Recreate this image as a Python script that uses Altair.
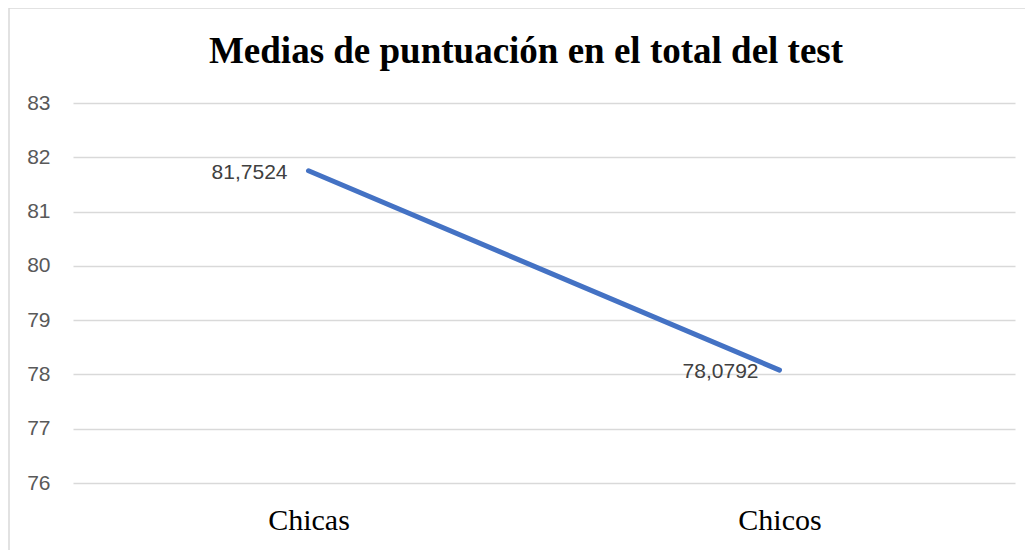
import altair as alt
import pandas as pd

categories = ["Chicas", "Chicos"]
values = [81.7524, 78.0792]
y_ticks = [76, 77, 78, 79, 80, 81, 82, 83]
title_text = "Medias de puntuación en el total del test"

df = pd.DataFrame({"grupo": categories, "media": values})

x_enc = alt.X("grupo:N", sort=categories, title=None,
              scale=alt.Scale(type="point", padding=0.5),
              axis=alt.Axis(labelAngle=0, labelFont="Liberation Serif", labelFontSize=30,
                            labelColor="#000000", domain=False, ticks=False, grid=False,
                            labelPadding=22))
y_enc = alt.Y("media:Q", title=None,
              scale=alt.Scale(domain=[76, 83], nice=False, zero=False),
              axis=alt.Axis(values=y_ticks, domain=False, ticks=False, grid=True,
                            gridColor="#d9d9d9", gridWidth=1.5,
                            labelFont="Liberation Sans", labelFontSize=21,
                            labelColor="#595959", labelPadding=23))

border = alt.Chart(pd.DataFrame({"a": [0]})).mark_rect(
    fill=None, stroke="#d9d9d9", strokeWidth=1.5
).encode(x=alt.value(-64), x2=alt.value(1000), y=alt.value(-95), y2=alt.value(500))

title = alt.Chart(pd.DataFrame({"t": [title_text]})).mark_text(
    align="center", baseline="alphabetic", font="Liberation Serif", fontSize=37,
    fontWeight="bold", color="#000000"
).encode(x=alt.value(453), y=alt.value(-40), text="t:N")

line = alt.Chart(df).mark_line(color="#4472C4", strokeWidth=5, strokeCap="round").encode(
    x=x_enc, y=y_enc
)

labels = alt.Chart(df).transform_calculate(
    lbl="replace(format(datum.media, '.4f'), '.', ',')"
).mark_text(align="right", baseline="middle", dx=-21, dy=2,
            font="Liberation Sans", fontSize=21, color="#404040").encode(
    x=x_enc, y=y_enc, text="lbl:N"
)

chart = alt.layer(border, title, line, labels).properties(
    width=942, height=380,
    background="white",
    autosize=alt.AutoSizeParams(type="none"),
    padding={"left": 65, "top": 95, "right": 10, "bottom": 67},
).configure_view(strokeWidth=0, stroke="transparent")

chart.save("out.html", embed_options={"renderer": "svg", "actions": False})
